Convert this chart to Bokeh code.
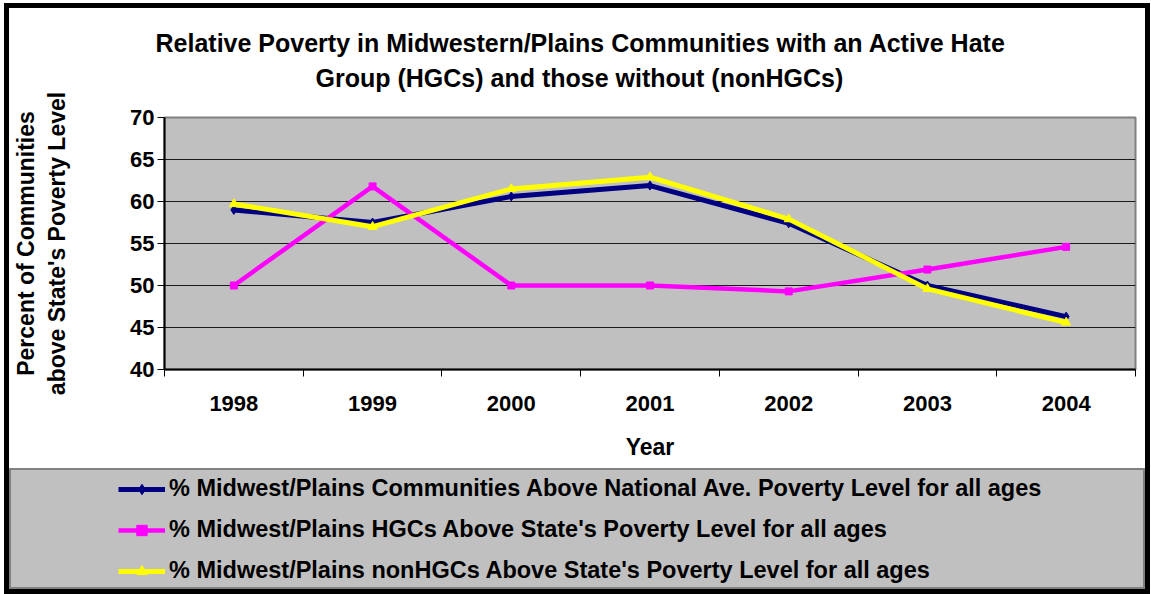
from bokeh.plotting import figure
from bokeh.layouts import column
from bokeh.models import Range1d, FixedTicker, Legend, LegendItem, Title
from bokeh.embed import file_html
from bokeh.resources import INLINE

# Data
years = ["1998", "1999", "2000", "2001", "2002", "2003", "2004"]
national = [59.0, 57.5, 60.6, 61.9, 57.4, 50.0, 46.3]
hgc = [50.0, 61.8, 50.0, 50.0, 49.3, 51.9, 54.6]
non_hgc = [59.7, 57.0, 61.5, 62.9, 57.9, 49.6, 45.6]
y_ticks = [40, 45, 50, 55, 60, 65, 70]

series_labels = [
    "% Midwest/Plains Communities Above National Ave. Poverty Level for all ages",
    "% Midwest/Plains HGCs Above State's Poverty Level for all ages",
    "% Midwest/Plains nonHGCs Above State's Poverty Level for all ages",
]
series_colors = ["#000080", "#FF00FF", "#FFFF00"]
series_markers = ["diamond", "square", "triangle"]
series_values = [national, hgc, non_hgc]

title_lines = [
    "Relative Poverty in Midwestern/Plains Communities with an Active Hate",
    "Group (HGCs) and those without (nonHGCs)",
]
ylabel_lines = ["Percent of Communities", "above State's Poverty Level"]

FONT = "Liberation Sans"
GREY = "#C0C0C0"

# categories sit at the centre of equal-width slots
xs = [i + 0.5 for i in range(len(years))]

# ---- main chart -------------------------------------------------------------
p = figure(width=1136, height=460, output_backend="svg", toolbar_location=None,
           x_range=Range1d(0, len(years)), y_range=Range1d(40, 70),
           min_border_left=152, min_border_right=10,
           min_border_top=109, min_border_bottom=99)

p.background_fill_color = GREY
p.border_fill_color = "white"
p.outline_line_color = "#808080"
p.outline_line_width = 2

p.xaxis.ticker = FixedTicker(ticks=xs, minor_ticks=list(range(len(years) + 1)))
p.xaxis.major_label_overrides = {x: y for x, y in zip(xs, years)}
p.xaxis.major_tick_line_color = None
p.xaxis.major_tick_out = 0
p.xaxis.major_tick_in = 0
p.xaxis.minor_tick_out = 7
p.xaxis.minor_tick_in = 0
p.xaxis.minor_tick_line_color = "black"
p.xaxis.major_label_standoff = 19
p.xaxis.major_label_text_font = FONT
p.xaxis.major_label_text_font_style = "bold"
p.xaxis.major_label_text_font_size = "22px"
p.xaxis.major_label_text_color = "black"
p.xaxis.axis_label = "Year"
p.xaxis.axis_label_text_font = FONT
p.xaxis.axis_label_text_font_style = "bold"
p.xaxis.axis_label_text_font_size = "23px"
p.xaxis.axis_label_text_color = "black"
p.xaxis.axis_label_standoff = 20
p.xaxis.axis_line_color = "black"
p.xaxis.axis_line_width = 2

p.yaxis.ticker = FixedTicker(ticks=y_ticks)
p.yaxis.major_tick_out = 7
p.yaxis.major_tick_in = 0
p.yaxis.minor_tick_line_color = None
p.yaxis.major_label_standoff = 3
p.yaxis.major_label_text_font = FONT
p.yaxis.major_label_text_font_style = "bold"
p.yaxis.major_label_text_font_size = "22px"
p.yaxis.major_label_text_color = "black"
p.yaxis.axis_line_color = "black"
p.yaxis.axis_line_width = 2
p.yaxis.axis_label = "\n".join(ylabel_lines)
p.yaxis.axis_label_text_font = FONT
p.yaxis.axis_label_text_font_style = "bold"
p.yaxis.axis_label_text_font_size = "23px"
p.yaxis.axis_label_text_color = "black"
p.yaxis.axis_label_standoff = 57

p.xgrid.grid_line_color = None
p.ygrid.ticker = FixedTicker(ticks=y_ticks[1:-1])
p.ygrid.grid_line_color = "#1a1a1a"
p.ygrid.grid_line_width = 1

line_widths = [5, 4.5, 5]
marker_sizes = [9, 7, 9]
for vals, col, mk, lw, ms in zip(series_values, series_colors, series_markers,
                                 line_widths, marker_sizes):
    p.line(xs, vals, line_color=col, line_width=lw)
    p.scatter(xs, vals, marker=mk, size=ms, color=col)

# two-line title, lower line added first so it sits next to the frame
p.add_layout(Title(text=title_lines[1], align="left", offset=151, standoff=52,
                   text_font=FONT, text_font_style="bold", text_font_size="25px",
                   text_color="black"), "above")
p.add_layout(Title(text=title_lines[0], align="left", offset=-9, standoff=-42,
                   text_font=FONT, text_font_style="bold", text_font_size="25px",
                   text_color="black"), "above")

# ---- legend strip -----------------------------------------------------------
leg = figure(width=1136, height=121, output_backend="svg", toolbar_location=None,
             x_range=Range1d(0, 1), y_range=Range1d(0, 1),
             x_axis_type=None, y_axis_type=None,
             min_border_left=0, min_border_right=0,
             min_border_top=0, min_border_bottom=0)
leg.background_fill_color = GREY
leg.border_fill_color = GREY
leg.outline_line_color = "#808080"
leg.outline_line_width = 3
leg.xgrid.visible = False
leg.ygrid.visible = False

# keep the strip's frame independent of the chart's frame
for fig in (p, leg):
    fig.frame_align = False

items = []
for vals, col, mk, lw, label in zip(series_values, series_colors, series_markers,
                                    line_widths, series_labels):
    # same series, outside this strip's ranges: only their legend keys show
    lr = leg.line(xs, vals, line_color=col, line_width=lw)
    mr = leg.scatter(xs, vals, marker=mk, size=7, color=col)
    items.append(LegendItem(label=label, renderers=[lr, mr]))

legend = Legend(items=items, location=(109, 5), orientation="vertical",
                background_fill_alpha=0, border_line_color=None,
                glyph_width=47, glyph_height=26, label_height=26, spacing=14,
                padding=0, margin=0, label_standoff=4,
                label_text_font=FONT, label_text_font_style="bold",
                label_text_font_size="23.5px", label_text_color="black")
leg.add_layout(legend, "center")

layout = column(p, leg, spacing=0,
                styles={"border": "5px solid black", "margin-left": "4px",
                        "margin-top": "3px", "width": "fit-content"})

open("out.html", "w").write(file_html(layout, INLINE))
